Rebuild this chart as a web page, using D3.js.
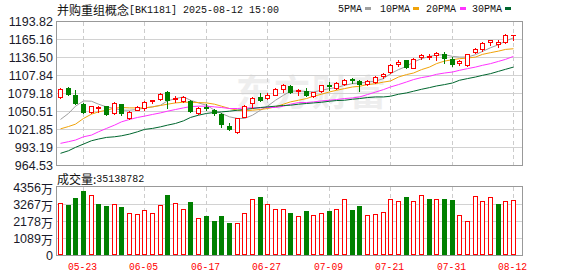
<!DOCTYPE html>
<html>
<head>
<meta charset="utf-8">
<script src="https://cdn.jsdelivr.net/npm/d3@7"></script>
<style>
body { margin: 0; background: #fff; }
svg { display: block; }
</style>
</head>
<body>
<svg width="578" height="276"></svg>
<script>
// K-line data for BK1181
var dates = ["05-20","05-21","05-22","05-23","05-26","05-27","05-28","05-29","05-30",
  "06-03","06-04","06-05","06-06","06-09","06-10","06-11","06-12","06-13","06-16","06-17",
  "06-18","06-19","06-20","06-23","06-24","06-25","06-26","06-27","06-30",
  "07-01","07-02","07-03","07-04","07-07","07-08","07-09","07-10","07-11","07-14","07-15",
  "07-16","07-17","07-18","07-21","07-22","07-23","07-24","07-25","07-28","07-29","07-30","07-31",
  "08-01","08-04","08-05","08-06","08-07","08-08","08-11","08-12"];

var opens = [1073.3,1088.2,1076.0,1061.7,1049.4,1055.8,1058.5,1046.9,1061.2,1039.9,
  1053.2,1056.4,1066.8,1069.6,1080.8,1069.8,1066.9,1066.9,1046.9,1058.0,
  1052.1,1045.8,1026.6,1017.6,1041.5,1062.8,1073.3,1071.7,1077.1,1086.6,
  1090.3,1082.5,1082.8,1074.9,1082.4,1092.9,1088.2,1093.5,1101.9,1098.3,
  1094.6,1097.2,1107.4,1113.1,1126.5,1131.7,1120.1,1137.0,1137.6,1140.2,
  1141.3,1133.3,1127.6,1124.9,1144.9,1149.2,1160.9,1158.3,1160.9,1171.5];
var highs = [1088.2,1089.5,1083.9,1063.0,1059.5,1058.5,1059.5,1065.0,1062.5,1051.0,
  1058.5,1066.4,1069.0,1080.0,1082.9,1074.4,1074.4,1069.0,1058.0,1061.7,
  1054.2,1046.9,1031.0,1040.0,1060.0,1073.3,1079.7,1078.9,1088.0,1094.6,
  1091.9,1086.6,1088.2,1081.5,1093.0,1097.2,1096.5,1102.6,1103.5,1101.0,
  1101.0,1106.0,1112.1,1125.8,1131.7,1133.0,1135.4,1141.5,1141.5,1145.0,
  1144.9,1137.0,1132.8,1142.0,1151.0,1160.5,1164.7,1163.6,1174.5,1172.9];
var lows = [1071.7,1076.5,1061.7,1047.0,1048.0,1049.5,1043.7,1045.5,1044.6,1038.5,
  1052.0,1053.2,1062.8,1068.5,1056.4,1065.3,1065.3,1049.5,1045.5,1053.2,
  1043.7,1025.5,1020.3,1016.0,1040.5,1056.4,1067.0,1070.5,1076.0,1081.3,
  1079.5,1076.0,1075.0,1073.3,1081.3,1085.0,1086.6,1092.5,1095.6,1082.8,
  1092.0,1096.0,1104.2,1112.0,1122.7,1119.5,1119.0,1134.4,1133.3,1132.8,
  1128.1,1123.5,1123.8,1123.5,1144.0,1147.0,1156.7,1152.9,1159.5,1164.5];
var closes = [1085.6,1077.6,1062.8,1048.5,1058.5,1057.0,1045.8,1063.7,1046.9,1049.4,
  1057.4,1064.9,1068.5,1078.7,1068.0,1071.2,1072.8,1050.5,1056.4,1056.0,
  1046.9,1029.3,1022.3,1038.9,1058.5,1072.3,1068.0,1076.0,1086.6,1093.0,
  1081.3,1085.0,1076.0,1080.8,1091.9,1090.8,1095.6,1101.0,1099.9,1094.6,
  1098.8,1105.1,1109.9,1124.9,1128.5,1121.0,1134.4,1140.8,1139.2,1144.0,
  1136.0,1126.5,1130.0,1141.3,1150.3,1159.9,1163.6,1160.8,1172.0,1172.8];

// volume in 万
var volumes = [3362,3190,3637,4083,3871,3298,3126,3298,3062,2722,
  2658,2871,2722,3233,3828,3362,2935,3381,2381,2488,
  2169,2488,2042,2020,2722,3573,3700,3298,2935,2977,
  2722,2467,2807,2531,2722,2807,2977,3616,2871,3126,
  2531,2658,2786,3573,3488,3700,3488,3871,3573,3616,
  3573,3509,2531,2148,3807,3488,3743,3254,3488,3552];

var ma5 = [1037.3,1046.9,1058.5,1066.9,1066.4,1061.7,1057.4,1054.8,1052.1,1052.1,
  1053.2,1055.8,1057.4,1060.1,1066.9,1070.7,1073.3,1068.0,1063.7,1060.1,
  1052.1,1046.9,1041.5,1038.9,1038.9,1044.1,1052.1,1058.5,1068.0,1076.0,
  1082.4,1082.9,1081.9,1081.3,1083.9,1086.6,1088.2,1091.9,1094.6,1095.6,
  1097.2,1098.5,1102.6,1110.5,1116.9,1122.2,1129.0,1134.4,1138.1,1140.2,
  1140.8,1138.1,1137.0,1137.0,1140.8,1146.0,1151.9,1156.7,1162.5,1167.8];
var ma10 = [1022.3,1026.0,1029.8,1038.9,1045.8,1049.4,1052.1,1055.3,1056.4,1055.8,
  1055.8,1055.8,1057.4,1059.6,1061.7,1063.7,1064.8,1064.8,1064.3,1063.7,
  1061.7,1058.5,1054.8,1052.1,1051.0,1052.1,1053.2,1054.8,1057.4,1061.7,
  1065.4,1068.0,1070.7,1074.4,1077.6,1081.3,1083.9,1086.6,1089.2,1090.3,
  1093.0,1094.5,1097.0,1098.8,1105.1,1109.0,1111.5,1116.9,1121.0,1126.5,
  1130.6,1132.8,1134.4,1135.4,1137.0,1141.3,1144.0,1146.5,1149.2,1150.3];
var ma20 = [999.1,1001.8,1004.4,1009.6,1012.3,1017.6,1023.0,1028.2,1033.5,1037.3,
  1040.5,1042.6,1045.3,1047.8,1050.5,1053.2,1055.8,1057.8,1058.5,1058.5,
  1057.4,1056.4,1054.8,1054.8,1055.8,1055.8,1055.8,1056.4,1056.4,1058.5,
  1061.7,1064.3,1064.3,1065.4,1066.9,1068.0,1069.1,1070.7,1071.7,1073.3,
  1077.1,1081.0,1085.0,1089.2,1093.0,1097.2,1101.0,1104.2,1106.3,1109.4,
  1111.5,1113.1,1115.8,1118.5,1121.0,1123.8,1126.5,1130.1,1133.3,1138.1];
var ma30 = [983.2,987.3,992.7,998.0,1003.3,1006.0,1008.6,1009.6,1011.2,1013.9,
  1017.6,1021.4,1023.0,1025.5,1028.2,1030.9,1035.1,1040.5,1044.1,1046.9,
  1048.5,1049.4,1050.5,1052.1,1053.2,1054.8,1056.4,1057.4,1058.5,1059.6,
  1060.1,1061.7,1062.8,1063.7,1064.8,1066.4,1067.5,1068.0,1069.6,1070.7,
  1072.3,1073.3,1073.3,1074.4,1077.6,1079.7,1082.4,1085.5,1088.2,1090.8,
  1093.0,1095.6,1099.9,1102.6,1105.1,1107.8,1110.5,1114.2,1117.4,1121.0];

var priceTicks = ["1193.82","1165.16","1136.50","1107.84","1079.18","1050.51","1021.85","993.19","964.53"];
var volTicks = ["4356万","3267万","2178万","1089万","0"];
var dateTicks = ["05-23","06-05","06-17","06-27","07-09","07-21","07-31","08-12"];
var maNames = ["5PMA","10PMA","20PMA","30PMA"];
var maColors = ["#a0a0a0","#f0a30a","#ff33ff","#00662e"];

var svg = d3.select("svg");
var left = 56, right = 522;
var up = "#ff0000", down = "#008000";
var mono = "'Liberation Mono', 'DejaVu Sans Mono', monospace";
var cjk = "'Noto Sans CJK SC', sans-serif";

var x = d3.scaleBand().domain(dates).range([56, 517]);
var cx = function(d) { return Math.round(x(d) + x.bandwidth() / 2); };
var y = d3.scaleLinear().domain([+priceTicks[8], +priceTicks[0]]).range([165, 21.5]);
var yv = d3.scaleLinear().domain([0, 4356]).range([255, 187]);

// watermark
svg.append("text").attr("x", 236).attr("y", 106)
  .style("font-family", cjk).style("font-weight", "bold").style("font-size", "36px")
  .style("fill", "#eeeeee").style("letter-spacing", "2px").text("东方财富");

// grid
var grid = svg.append("g").attr("shape-rendering", "crispEdges");
priceTicks.forEach(function(t, i) {
  if (i == 0 || i == priceTicks.length - 1) return;
  grid.append("line").attr("x1", left).attr("x2", right)
    .attr("y1", Math.round(y(+t)) + 0.5).attr("y2", Math.round(y(+t)) + 0.5)
    .style("stroke", "#d2d2d2");
});
volTicks.forEach(function(t, i) {
  if (i == 0 || i == volTicks.length - 1) return;
  var v = 4356 - i * 1089;
  grid.append("line").attr("x1", left).attr("x2", right)
    .attr("y1", Math.round(yv(v)) + 0.5).attr("y2", Math.round(yv(v)) + 0.5)
    .style("stroke", "#d2d2d2");
});
dateTicks.forEach(function(d) {
  [[22, 165], [187, 255]].forEach(function(r) {
    grid.append("line").attr("x1", cx(d) + 0.5).attr("x2", cx(d) + 0.5)
      .attr("y1", r[0]).attr("y2", r[1])
      .style("stroke", "#cccccc").style("stroke-dasharray", "4,3");
  });
});
grid.append("rect").attr("x", left + 0.5).attr("y", 21.5).attr("width", right - left).attr("height", 143.5)
  .style("fill", "none").style("stroke", "#999");
grid.append("rect").attr("x", left + 0.5).attr("y", 186.5).attr("width", right - left).attr("height", 68.5)
  .style("fill", "none").style("stroke", "#999");

// MA lines
[ma5, ma10, ma20, ma30].forEach(function(arr, k) {
  var line = d3.line().x(function(d, i) { return cx(dates[i]) + 0.5; }).y(function(d) { return y(d); });
  svg.append("path").datum(arr).attr("d", line)
    .style("fill", "none").style("stroke", maColors[k]).style("stroke-width", 1);
});

// candles
var cg = svg.append("g").attr("shape-rendering", "crispEdges");
dates.forEach(function(d, i) {
  var c = cx(d);
  var rise = closes[i] >= opens[i];
  var col = rise ? up : down;
  var top = Math.round(y(Math.max(opens[i], closes[i])));
  var bot = Math.round(y(Math.min(opens[i], closes[i])));
  cg.append("line").attr("x1", c + 0.5).attr("x2", c + 0.5)
    .attr("y1", Math.round(y(highs[i]))).attr("y2", Math.round(y(lows[i])) + 1)
    .style("stroke", col);
  if (rise && bot - top >= 2) {
    cg.append("rect").attr("x", c - 1.5).attr("y", top + 0.5).attr("width", 4).attr("height", bot - top)
      .style("fill", "#fff").style("stroke", col);
  } else {
    cg.append("rect").attr("x", c - 2).attr("y", top).attr("width", 5).attr("height", Math.max(1, bot - top + 1))
      .style("fill", col);
  }
});

// volume bars, coloured by close against previous close
dates.forEach(function(d, i) {
  var c = cx(d);
  var rise = i == 0 ? closes[i] >= opens[i] : closes[i] >= closes[i - 1];
  var top = Math.round(yv(volumes[i]));
  if (rise) {
    cg.append("rect").attr("x", c - 1.5).attr("y", top + 0.5).attr("width", 4).attr("height", 254 - top)
      .style("fill", "#fff").style("stroke", up);
  } else {
    cg.append("rect").attr("x", c - 2).attr("y", top).attr("width", 5).attr("height", 255 - top)
      .style("fill", down);
  }
});

// axis labels
var labStyle = function(s) {
  return s.style("font-family", "'Liberation Sans', Arial, sans-serif").style("font-size", "12.5px")
    .style("fill", "#1a1a2a").attr("text-anchor", "end").attr("dominant-baseline", "central");
};
priceTicks.forEach(function(t) {
  labStyle(svg.append("text").attr("x", 53).attr("y", y(+t) + 0.5).text(t));
});
volTicks.forEach(function(t, i) {
  var v = 4356 - i * 1089;
  var tx = labStyle(svg.append("text").attr("x", 53).attr("y", yv(v) + 0.5));
  if (t == "0") { tx.text(t); return; }
  tx.append("tspan").text(t.replace("万", ""));
  tx.append("tspan").style("font-family", cjk).style("font-size", "12px").text("万");
});
dateTicks.forEach(function(d) {
  svg.append("text").attr("x", cx(d) - 0.5).attr("y", 266).attr("text-anchor", "middle")
    .attr("dominant-baseline", "central").attr("textLength", 29).attr("lengthAdjust", "spacingAndGlyphs")
    .style("font-family", mono).style("font-size", "11.5px").style("fill", up).text(d);
});

// title
var title = svg.append("text").attr("x", 57).attr("y", 8.5).attr("dominant-baseline", "central")
  .style("fill", "#111");
title.append("tspan").style("font-family", cjk).style("font-size", "12px").text("并购重组概念");
title.append("tspan").style("font-family", mono).style("font-size", "11.5px")
  .attr("textLength", 150).attr("lengthAdjust", "spacingAndGlyphs").text("[BK1181] 2025-08-12 15:00");

// volume caption
var cap = svg.append("text").attr("x", 57).attr("y", 177.5).attr("dominant-baseline", "central")
  .style("fill", "#111");
cap.append("tspan").style("font-family", cjk).style("font-size", "12px").text("成交量:");
cap.append("tspan").style("font-family", mono).style("font-size", "11.5px")
  .attr("textLength", 48).attr("lengthAdjust", "spacingAndGlyphs").text("35138782");

// legend
var legX = [338, 380, 426, 472];
var sqX = [365, 413, 460, 505];
maNames.forEach(function(n, k) {
  svg.append("text").attr("x", legX[k]).attr("y", 8.5).attr("dominant-baseline", "central")
    .attr("textLength", n.length * 6).attr("lengthAdjust", "spacingAndGlyphs")
    .style("font-family", mono).style("font-size", "11.5px").style("fill", "#111").text(n);
  svg.append("rect").attr("x", sqX[k]).attr("y", 7).attr("width", 6).attr("height", 3)
    .style("fill", maColors[k]);
});
</script>
</body>
</html>
